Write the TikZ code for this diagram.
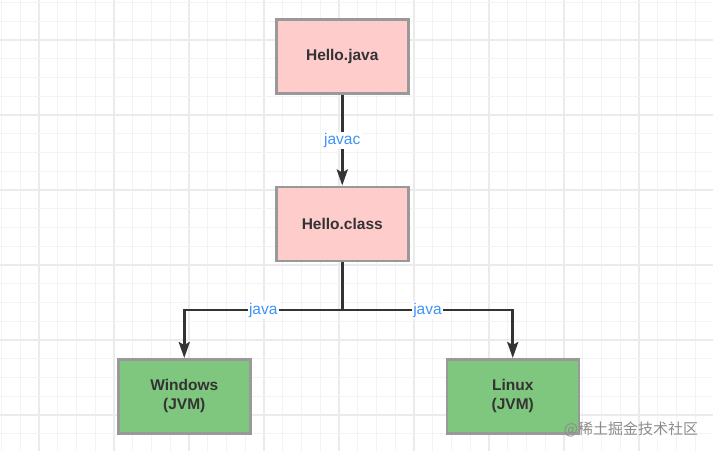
\documentclass[tikz,border=0pt]{standalone}
\usepackage{fontspec}
\setmainfont{Liberation Sans}
\newfontfamily\cjkfont{Noto Sans CJK SC}
\usetikzlibrary{positioning,arrows.meta}

\definecolor{gridlight}{HTML}{F3F3F3}
\definecolor{griddark}{HTML}{EBEBEB}
\definecolor{boxborder}{HTML}{999999}
\definecolor{srcfill}{HTML}{FFCCCC}
\definecolor{jvmfill}{HTML}{7FC67F}
\definecolor{darkline}{HTML}{333333}
\definecolor{labelblue}{HTML}{3D94F6}

\begin{document}
\begin{tikzpicture}[
	x=1pt, y=1pt,
	box/.style={rectangle, draw=boxborder, line width=2.5pt, minimum width=132pt, minimum height=74pt, align=center, font=\fontsize{15.5}{19}\selectfont\bfseries, text=darkline},
	source/.style={box, fill=srcfill},
	jvm/.style={box, fill=jvmfill},
	lbl/.style={fill=white, inner sep=1.5pt, font=\fontsize{15.5}{18}\selectfont, text=labelblue},
	arrow/.style={-{Stealth[length=16pt,width=11pt,inset=3pt]}, line width=2.6pt, draw=darkline},
	line/.style={line width=2.6pt, draw=darkline}
]
\useasboundingbox (0,0) rectangle (713,451);
\fill[white] (0,0) rectangle (713,451);
% background grid
\foreach \k in {0,...,37} {
	\pgfmathsetmacro{\gx}{1.5+18.75*\k}
	\pgfmathtruncatemacro{\m}{mod(\k,4)}
	\ifnum\m=2 \draw[griddark, line width=1.4pt] (\gx,0) -- (\gx,451);
	\else \draw[gridlight, line width=1.4pt] (\gx,0) -- (\gx,451); \fi
}
\foreach \k in {0,...,24} {
	\pgfmathsetmacro{\gy}{451-2.5-18.75*\k}
	\pgfmathtruncatemacro{\m}{mod(\k,4)}
	\ifnum\m=2 \draw[griddark, line width=1.4pt] (0,\gy) -- (713,\gy);
	\else \draw[gridlight, line width=1.4pt] (0,\gy) -- (713,\gy); \fi
}

\node (hellojava) [source] at (342.25,394.25) {Hello.java};
\node (helloclass) [source, below=90.5pt of hellojava] {Hello.class};
\node (windows) [jvm, below=96pt of helloclass, xshift=-158pt] {Windows\\(JVM)};
\node (linux) [jvm, below=96pt of helloclass, xshift=170.5pt] {Linux\\(JVM)};

\draw [arrow] (hellojava) -- node[lbl] {javac} (helloclass);
\draw [line] (helloclass.south) -- ++(0,-48) coordinate (fork);
\draw [arrow] (fork) -| node[lbl, pos=0.25] {java} (windows);
\draw [arrow] (fork) -| node[lbl, pos=0.25] {java} (linux);

\node (mark) [text=black!45, font=\fontsize{15}{18}\cjkfont] at (631,22) {@稀土掘金技术社区};
\end{tikzpicture}
\end{document}
